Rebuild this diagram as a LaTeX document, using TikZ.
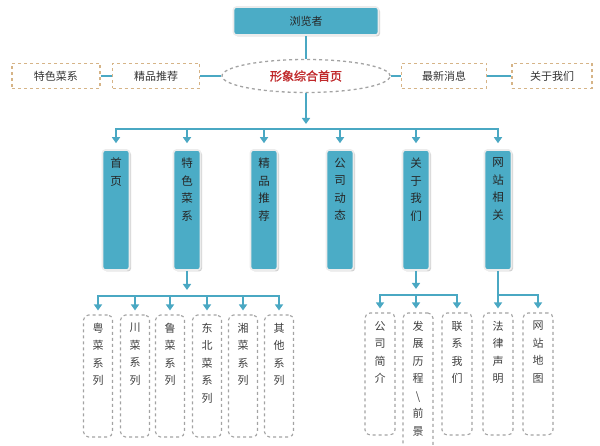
\documentclass[tikz,border=0pt]{standalone}
\usepackage{fontspec}
\setmainfont{Noto Sans CJK SC}
\newfontfamily\cjkbold{Noto Sans CJK SC}[FakeBold=1.5]
\usetikzlibrary{arrows.meta,shadows,shapes.geometric}
\definecolor{teal1}{HTML}{4BACC6}
\definecolor{tealline}{HTML}{4AA8C3}
\definecolor{tan1}{HTML}{D6B487}
\definecolor{gray1}{HTML}{A3A3A3}
\definecolor{red1}{HTML}{C0282A}
\tikzset{
  solidbox/.style={draw=white!85!gray, line width=1.6pt, fill=teal1, rounded corners=3pt,
    drop shadow={opacity=0.35, shadow xshift=1.5pt, shadow yshift=-1.5pt}, inner sep=0pt, text=black!85},
  colbox/.style={solidbox, minimum width=27pt, minimum height=120pt},
  topdash/.style={draw=tan1, dashed, line width=1.1pt, minimum height=25pt, inner sep=0pt, font=\fontsize{11}{13}\selectfont, text=black!80},
  subbox/.style={draw=gray1, dashed, line width=1.1pt, rounded corners=5pt, minimum width=29pt, inner sep=0pt, text=black!75},
  conn/.style={draw=tealline, line width=2.4pt},
  arr/.style={conn, -{Triangle[width=8pt,length=6pt]}},
}
\newcommand{\colt}[1]{\parbox[c][104pt][t]{14pt}{\centering\fontsize{11.5}{17.5}\selectfont #1}}
\newcommand{\subt}[2]{\parbox[c][#2][t]{14pt}{\centering\fontsize{11}{17.5}\selectfont #1}}
\begin{document}
\begin{tikzpicture}[x=1pt,y=-1pt]
\clip (0,0) rectangle (600,446);
\fill[white] (0,0) rectangle (600,446);
% top
\node[solidbox, minimum width=145pt, minimum height=28pt, font=\fontsize{11}{13}\selectfont] (viewer) at (306,21) {浏览者};
\node[ellipse, draw=gray1, dashed, line width=1.3pt, minimum width=168pt, minimum height=33pt, inner sep=0pt, text=red1, font=\cjkbold\fontsize{12}{14}\selectfont] (home) at (306,76) {形象综合首页};
\node[topdash, minimum width=88pt] (tese) at (56,76) {特色菜系};
\node[topdash, minimum width=87pt] (jingpin) at (156,76) {精品推荐};
\node[topdash, minimum width=85pt] (news) at (444,76) {最新消息};
\node[topdash, minimum width=80pt] (about) at (552,76) {关于我们};
\draw[conn] (viewer) -- (home);
\draw[conn] (tese) -- (jingpin);
\draw[conn] (jingpin) -- (home);
\draw[conn] (home) -- (news);
\draw[conn] (news) -- (about);
% columns
\node[colbox] (c1) at (116,210) {\colt{首\\页}};
\node[colbox] (c2) at (187,210) {\colt{特\\色\\菜\\系}};
\node[colbox] (c3) at (264,210) {\colt{精\\品\\推\\荐}};
\node[colbox] (c4) at (340,210) {\colt{公\\司\\动\\态}};
\node[colbox] (c5) at (416,210) {\colt{关\\于\\我\\们}};
\node[colbox] (c6) at (498,210) {\colt{网\\站\\相\\关}};
\coordinate (b1) at (306,129);
\draw[arr, shorten >=5pt] (home) -- (b1);
\foreach \c in {c1,c2,c3,c4,c5,c6} \draw[arr, shorten >=6pt] (b1) -| (\c);
% sub of c2
\node[subbox, minimum height=122pt] (s1) at (98,376) {\subt{粤\\菜\\系\\列}{106pt}};
\node[subbox, minimum height=122pt] (s2) at (135,376) {\subt{川\\菜\\系\\列}{106pt}};
\node[subbox, minimum height=122pt] (s3) at (170,376) {\subt{鲁\\菜\\系\\列}{106pt}};
\node[subbox, minimum height=122pt] (s4) at (207,376) {\subt{东\\北\\菜\\系\\列}{106pt}};
\node[subbox, minimum height=122pt] (s5) at (243,376) {\subt{湘\\菜\\系\\列}{106pt}};
\node[subbox, minimum height=122pt] (s6) at (279,376) {\subt{其\\他\\系\\列}{106pt}};
\coordinate (b2) at (187,296);
\draw[arr, shorten >=6pt] (c2) -- (b2);
\foreach \s in {s1,s2,s3,s4,s5,s6} \draw[arr, shorten >=4pt] (b2) -| (\s);
% sub of c5
\node[subbox, minimum width=30pt, minimum height=122pt] (r1) at (380,374) {\subt{公\\司\\简\\介}{106pt}};
\node[subbox, minimum width=30pt, minimum height=150pt] (r2) at (418,388) {\subt{发\\展\\历\\程\\{\textbackslash}\\前\\景}{134pt}};
\node[subbox, minimum width=30pt, minimum height=122pt] (r3) at (457,374) {\subt{联\\系\\我\\们}{106pt}};
\coordinate (b3) at (416,295);
\draw[arr, shorten >=6pt] (c5) -- (b3);
\draw[arr, shorten >=4pt] (b3) -| (r1);
\draw[arr, shorten >=4pt] (b3) -- (r2.north -| b3);
\draw[arr, shorten >=4pt] (b3) -| (r3);
% sub of c6
\node[subbox, minimum width=30pt, minimum height=122pt] (w1) at (498,374) {\subt{法\\律\\声\\明}{106pt}};
\node[subbox, minimum width=30pt, minimum height=122pt] (w2) at (538,374) {\subt{网\\站\\地\\图}{106pt}};
\coordinate (b4) at (498,295);
\draw[conn] (c6) -- (b4);
\foreach \s in {w1,w2} \draw[arr, shorten >=4pt] (b4) -| (\s);
\end{tikzpicture}
\end{document}
